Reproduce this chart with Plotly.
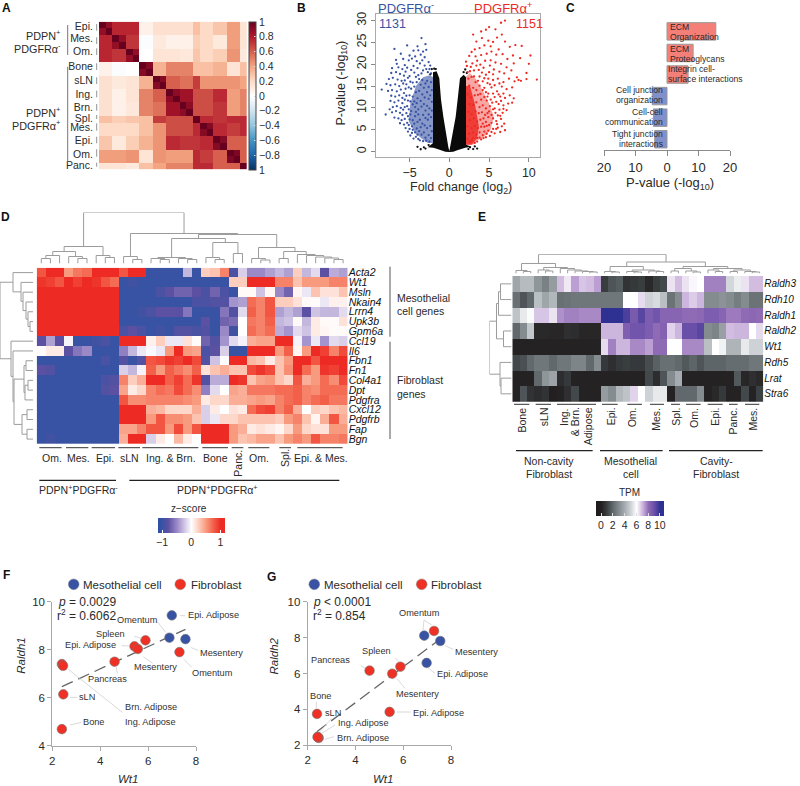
import plotly.graph_objects as go

W, H = 800, 786
FONT = "Liberation Sans"
TXT = "#2a2a2a"
BLUE = "#3953A4"
RED = "#ED2A24"
GREY = "#9c9c9c"

# ---------- Panel A ----------
a_labels = ["Epi.", "Mes.", "Om.", "Bone", "sLN", "Ing.", "Brn.", "Spl.", "Mes.", "Epi.", "Om.", "Panc."]
a_sizes = [2, 2, 2, 2, 2, 2, 2, 1, 2, 2, 2, 1]
a_tick_idx = [0.15, 1.96, 3.9, 6.1, 8.3, 10.3, 12.3, 13.9, 15.3, 17.2, 19.2, 20.9]
a_groups = [
    [.88, .76, .76, .08, .17, .17, .17, .30, .20, .28, .42, .15],
    [.76, .88, .72, -.02, .12, .08, .08, .25, .20, .12, .42, .15],
    [.76, .72, .88, .00, .15, .15, .13, .28, .20, .25, .45, .12],
    [.08, -.02, .00, .92, .35, .50, .50, .30, .30, .35, .15, .30],
    [.17, .12, .15, .35, .92, .60, .55, .70, .45, .45, .45, .40],
    [.17, .08, .15, .50, .60, .90, .85, .65, .65, .75, .42, .50],
    [.17, .08, .13, .50, .55, .85, .90, .65, .65, .72, .42, .50],
    [.30, .25, .28, .30, .70, .65, .65, 1.0, .75, .72, .75, .75],
    [.20, .20, .20, .30, .45, .65, .65, .75, .92, .75, .70, .75],
    [.28, .12, .25, .35, .45, .75, .72, .72, .75, .92, .60, .60],
    [.42, .42, .45, .15, .45, .42, .42, .75, .70, .60, .94, .60],
    [.15, .15, .12, .30, .40, .50, .50, .75, .75, .60, .60, 1.0],
]
a_cbar_vals = [1, .8, .6, .4, .2, 0, -.2, -.4, -.6, -.8, -1]
a_cbar_text = ["1", "0.8", "0.6", "0.4", "0.2", "0", "−0.2", "−0.4", "−0.6", "−0.8", "1"]

# ---------- Panel B ----------
black_outline_x = [0, .5, 1, 1.5, 2, 2.8, 2.1, 2.1, 2.1, 2.1, 1.8, 1.34, 1.05, .8, .42, .13, 0,
                   -.13, -.42, -.75, -1.05, -1.26, -1.6, -2.05, -2.05, -2.05, -2.05, -2.7, -2, -1.5, -1, -.5, 0]
black_outline_y = [-.1, 0, .3, .6, .9, 1.1, 1.6, 6, 12, 17, 17.6, 16.8, 12, 8, 4.2, 1.1, .1,
                   1.1, 4.2, 8, 12, 16.8, 18.4, 18.2, 12, 6, 2, 1, .9, .6, .3, 0, -.1]
black_extra = [(-3.2, 1), (-4, 1.1), (-2.6, 1.5), (-3.6, .55), (-3, .7), (2.6, 1), (3.2, 1.2), (3.5, .7), (3, .6), (2.4, .6),
               (-2.2, 18.9), (-2.4, 17.7), (2.2, 18), (2.0, 18.8), (1.8, 18.2), (-1.9, 19), (-1.7, 18.9)]
blue_core_x = [-2, -2, -2.5, -3.3, -4.2, -4.9, -5.1, -4.4, -3.5, -2.7]
blue_core_y = [2, 17, 17.5, 17, 15, 11, 7, 4.5, 3, 2]
red_core_x = [2, 2, 2.6, 3.4, 4.2, 5, 5.6, 5.2, 4.4, 3.4, 3]
red_core_y = [1.6, 17, 18, 16.5, 14, 11, 8, 5, 3.4, 2.4, 1.6]
red_dense_x = [2, 2, 2.6, 3.2, 3.7, 3.5, 3, 2.8]
red_dense_y = [1.6, 15, 15, 11, 6, 3, 2, 1.6]
blue_pts = [(-8.5, 14.2), (-8, 8.5), (-7.5, 9.7), (-6.9, 23.5), (-6.1, 22.4), (-5.3, 24.3), (-3.5, 26), (-4, 24.1), (-3, 24.6),
            (-4.5, 23.1), (-3.9, 23.2), (-3.3, 22.9), (-2.9, 23.3), (-5, 22), (-4.3, 21.8), (-3.6, 22.2), (-3.1, 21.6), (-6.7, 21),
            (-5.8, 21.2), (-5.1, 20.9), (-4.7, 21.3), (-4.1, 20.7), (-3.4, 20.9), (-2.6, 20.5), (-6.6, 20.1), (-5.6, 19.8), (-2.4, 19.7),
            (-7.2, 19.1), (-6.4, 19.3), (-5.9, 18.9), (-5.3, 19.2), (-4.8, 18.7), (-7.3, 18), (-6.7, 18.2), (-6.2, 17.8), (-5.7, 17.4),
            (-7.6, 16.6), (-7.1, 16.9), (-6.5, 16.5), (-6, 16.2), (-7.9, 15.5), (-7.4, 15.2), (-6.8, 15.4), (-6.3, 15), (-5.8, 15.6),
            (-7.7, 13.9), (-7.2, 14.1), (-6.6, 13.8), (-6.1, 14.2), (-5.7, 13.4), (-7.3, 12.8), (-6.8, 12.6), (-6.3, 12.9), (-5.9, 12.3),
            (-7.4, 11.6), (-6.9, 11.3), (-6.4, 11.7), (-5.9, 11.1), (-7.1, 10.2), (-6.6, 10.4), (-6.1, 10), (-5.8, 9.6), (-7.2, 9),
            (-6.7, 9.3), (-6.2, 8.9), (-5.9, 8.4), (-6.9, 7.8), (-6.4, 7.6), (-6, 7.2), (-5.6, 7.5), (-6.2, 6.5), (-5.7, 6.2), (-5.3, 6.6),
            (-5.5, 5.4), (-5, 5.2), (-5.2, 4.6), (-4.7, 4.3), (-4.9, 3.7), (-4.2, 3.4), (-4.5, 3.0), (-3.7, 2.6), (-3.3, 2.4), (-3.9, 2.9),
            (-5.1, 14.7), (-4.6, 15.8), (-4.2, 13.6), (-3.8, 16.6), (-3.2, 14.6), (-2.8, 16.2), (-4.9, 11.5), (-4.3, 10.2), (-3.6, 11.6),
            (-3, 9.4), (-2.6, 12.1), (-5.2, 8.1), (-4.6, 7.2), (-3.9, 8.5), (-3.4, 6.4), (-2.7, 7.3), (-4.1, 5.3), (-3.2, 4.4),
            (-5, 17.3), (-4.4, 18.1), (-3.9, 17.5), (-3.3, 18.6), (-2.7, 18.2), (-5.4, 12.8), (-4.8, 9.3), (-5.3, 10.4),
            (-5.5, 18.3), (-5.2, 16.9), (-4.9, 16), (-4.5, 19.6), (-4.2, 17.1), (-4, 19.1), (-3.7, 20.2), (-3.5, 17.9), (-3.1, 19.7), (-2.9, 18.9),
            (-2.5, 18.9), (-2.3, 17.9), (-5.6, 16.3), (-5.5, 14.4), (-5.4, 15.4), (-4.8, 14.4), (-4.4, 14.9), (-4.1, 15.9), (-3.6, 15.3), (-3.4, 16.4),
            (-3, 15.6), (-2.6, 14.8), (-2.3, 15.9), (-2.2, 14.1), (-5.6, 11.9), (-5.2, 11.7), (-5, 12.9), (-4.6, 12.6), (-4.4, 11.5), (-4, 12.2),
            (-3.8, 13.9), (-3.4, 13.1), (-3.1, 12.4), (-2.8, 13.6), (-2.4, 12.9), (-2.2, 11.4), (-5.6, 10.2), (-5.1, 9.7), (-4.6, 10.8), (-4.1, 11.1),
            (-3.9, 9.7), (-3.5, 10.3), (-3.2, 10.9), (-2.8, 10.5), (-2.5, 9.9), (-2.2, 9.4), (-5.4, 8.8), (-5, 7.4), (-4.9, 8.5), (-4.3, 8.1),
            (-4.2, 9.1), (-3.7, 7.3), (-3.3, 8.4), (-3, 7.7), (-2.6, 8.5), (-2.3, 7.9), (-5.1, 6.1), (-4.7, 5.8), (-4.4, 6.4), (-4, 6.8),
            (-3.6, 5.6), (-3.1, 6), (-2.8, 5.4), (-2.4, 5.9), (-2.2, 4.7), (-4.6, 5), (-4.3, 4.4), (-3.8, 4.7), (-3.5, 3.9), (-3, 3.2),
            (-2.6, 3.8), (-2.3, 3.1), (-4, 3.9), (-2.9, 2.5), (-2.5, 2.3)]
red_pts = [(11, 16.5), (10.2, 22), (10, 20.1), (9.7, 18), (9.7, 16.6), (9.1, 24.2), (8.3, 24.4), (7, 30), (6.5, 29.5), (5, 28.5),
           (4, 27.5), (8.5, 17), (8.7, 16.4), (9, 16.2), (8, 22), (7, 25.2), (6, 26.1), (5.5, 25.1), (5.8, 28), (4.6, 27.9),
           (4.1, 26), (3.4, 25.2), (3, 26.8), (4.9, 25.4), (6.6, 26.8), (5.2, 24.1), (4.4, 24.3), (3.8, 23.7), (3.2, 23.4), (2.8, 22.8),
           (6.2, 23.4), (7.6, 24), (8.9, 21.4), (8.1, 20.2), (7.3, 21.2), (6.7, 22.3), (5.9, 22.2), (5.3, 22.9), (4.7, 22.4), (4, 22.1),
           (3.3, 21.8), (2.5, 21.9), (2.1, 20.6), (7.8, 18.6), (7.2, 19.3), (6.5, 20.1), (5.8, 20.4), (5.2, 20.9), (4.5, 20.8),
           (6.9, 17.9), (6.3, 18.3), (5.6, 18.8), (5, 18.2), (8.2, 16.1), (7.5, 16.7), (6.8, 15.9), (6.1, 16.7), (5.5, 16.4),
           (7.9, 14.7), (7.2, 14.3), (6.6, 14.9), (6, 13.8), (8.1, 12.2), (7.6, 12.9), (7, 12.3), (6.4, 12.6), (5.7, 12.5),
           (7.9, 11.2), (7.4, 11), (6.8, 10.6), (6.2, 10.9), (7.2, 9.5), (6.7, 8.9), (6.1, 8.3), (5.5, 9.7), (6.5, 7.5), (5.9, 7),
           (5.3, 6.6), (6.9, 6.4), (6.1, 5.5), (5.5, 5.2), (7, 4.9), (6.4, 4.5), (5.7, 4.2), (5.1, 3.6), (4.6, 3.3), (4, 2.8),
           (3.5, 2.3), (3.2, 2), (3.8, 3.2), (2.8, 2.6), (4.4, 14.6), (4.9, 13.3), (4.2, 16.1), (3.7, 18.7), (3.1, 17.2), (2.6, 18.4),
           (4.7, 11.7), (5.1, 10.4), (4.5, 8.4), (4.9, 7.9), (4.4, 5.7), (3.9, 13.2), (4.3, 19.2), (3.4, 19.7), (2.9, 20.2),
           (3.6, 16.2), (4.8, 15.7), (5.3, 14.7), (5.2, 11.9), (4.6, 6.8),
           (2.3, 18.2), (2.2, 19.6), (2.7, 19.4), (3.1, 18.6), (3.5, 20.8), (3.9, 19.9), (4.1, 18.1), (4.6, 17.6), (5.1, 19.7), (5.5, 17.7),
           (2.4, 16.7), (2.8, 17.1), (3.3, 15.9), (3.8, 17.2), (4.4, 16.8), (4.9, 16.7), (5.7, 15.2), (6.3, 15.6), (2.5, 15.1), (3, 14.6),
           (3.4, 14.1), (3.8, 15.1), (4.2, 14.1), (4.6, 13.6), (5.1, 15.4), (5.5, 13.3), (6.2, 13.1), (6.8, 13.3), (2.3, 13.1), (2.7, 12.4),
           (3.2, 12.9), (3.6, 13), (4, 11.9), (4.4, 12.5), (4.8, 12.6), (5.4, 11.2), (5.9, 11.4), (6.5, 11.6), (2.5, 10.9), (3, 10.7),
           (3.4, 11.3), (3.8, 10.2), (4.2, 10.6), (4.6, 9.9), (5, 9.2), (5.7, 9.9), (6.3, 9.6), (6.8, 9.8), (2.4, 9.1), (2.8, 8.6),
           (3.3, 9.2), (3.7, 8.8), (4.1, 9), (4.3, 7.6), (4.8, 8.8), (5.3, 8.4), (5.8, 8.9), (6.4, 8.2), (2.6, 7.2), (3.1, 7.6),
           (3.5, 6.9), (3.9, 7.3), (4.2, 6.4), (4.7, 5.9), (5, 6.1), (5.5, 7.6), (6, 6.3), (6.6, 5.8), (2.3, 5.8), (2.8, 5.4),
           (3.2, 5.9), (3.6, 5.4), (4, 5.7), (4.4, 4.6), (4.9, 4.8), (5.3, 4.5), (5.9, 5.2), (2.5, 4.1), (3, 4.4), (3.4, 3.9),
           (3.8, 4.4), (4.2, 3.8), (4.7, 4.1), (2.6, 2.2), (3, 3.1), (2.3, 2.9), (3.5, 3.1), (4.3, 3.1)]

# ---------- Panel C ----------
c_terms = ["ECM Organization", "ECM Proteoglycans", "Integrin cell-surface interactions",
           "Cell junction organization", "Cell-cell communication", "Tight junction interactions"]
c_values = [15.5, 8.3, 6.7, -4.7, -4.3, -3.9]
c_tick_vals = [-20, -10, 0, 10, 20]
c_tick_text = ["20", "10", "0", "10", "20"]

# ---------- Panel D ----------
d_genes = ["Acta2", "Wt1", "Msln", "Nkain4", "Lrrn4", "Upk3b", "Gpm6a", "Ccl19", "Il6", "Fbn1", "Fn1",
           "Col4a1", "Dpt", "Pdgfra", "Cxcl12", "Pdgfrb", "Fap", "Bgn"]
d_matrix = [
    [.8, 1, 1, .5, .65, .7, 1, 1, 1, .8, 1, 1, -1, -1, -1, -1, -.3, -1, .25, .3, .6, -.9, -.2, -.5, -.5, -.4, -.3, -.4, .25, -.3, -.15, -.8, -.35, -.4],
    [.95, .9, .8, 1, .9, 1, .95, .8, .7, -1, -.95, -1, -1, -1, -1, -1, -1, -1, -1, -1, -1, .25, .25, 1, 1, 1, .6, .6, .3, .5, .5, .5, .6, .6],
    [1, 1, 1, 1, 1, 1, 1, 1, 1, -1, -1, -1, -1, -.9, -.8, -.7, -.7, -.8, -.9, -.7, -.9, -1, .03, .03, -.25, .05, -.5, -.7, .05, -.1, .3, .15, .15, .3],
    [1, 1, 1, 1, 1, 1, 1, 1, 1, -1, -1, -1, -1, -1, -1, -1, -1, -.9, -.9, -.85, -.85, -.45, -.4, .7, .6, .8, .25, .25, .15, .03, .02, -.1, .07, .07],
    [1, 1, 1, 1, 1, 1, 1, 1, 1, -1, -1, -.95, -.9, -.8, -.8, -.8, -.6, -1, -1, -1, -.6, -.85, -.15, .75, .6, .8, -.4, -.3, -.4, -.8, -.25, -.3, -.3, -.15],
    [1, 1, 1, 1, 1, 1, 1, 1, 1, -1, -1, -1, -1, -1, -1, -1, -1, -1, -.8, -1, -.7, -.65, 0, .65, .6, .75, -.3, -.25, .03, -.3, .1, .03, .02, .15],
    [1, 1, 1, 1, 1, 1, 1, 1, 1, -.9, -.8, -.9, -1, -.95, -1, -.85, -.85, -.9, -.85, -1, -.5, -.95, 0, .7, .6, .7, -.35, -.45, -.15, -.25, .1, .05, .02, .02],
    [-.8, -.4, -.8, -.05, -1, -1, -.95, -.9, -1, 1, 1, 1, .07, .25, -.1, -.1, .15, .02, -.7, -.85, -.45, -.15, -.05, .4, .45, .45, 1, 1, -.05, -.45, -.1, -.45, -.15, -.2],
    [.02, .1, .1, -.8, -.6, -.5, -1, -1, -1, -.55, -.3, -.1, -.03, -.1, .5, 1, .5, .45, -.9, -.8, -.2, -1, -1, 1, 1, 1, .5, .75, .05, .5, 1, .9, .6, .85],
    [-1, -1, -1, -1, -1, -1, -1, -.9, -1, -.85, -1, -.85, .8, .85, .95, .9, 1, .85, -.85, -.25, -.02, 1, 1, .35, .3, .1, .3, .5, 1, 1, .8, 1, 1, 1],
    [-.8, -.85, -1, -1, -1, -1, -1, -1, -1, -.2, -.3, -.05, .75, .5, .75, .65, .55, .75, .15, .3, .4, .3, .3, .85, .95, .85, .3, .55, 1, .7, .5, .95, .9, 1],
    [-1, -1, -1, -1, -1, -1, -1, -.9, -.85, .6, .25, .4, 1, 1, .75, .9, .7, .95, -.85, -.35, -.35, 1, .95, .3, .45, .5, .3, .2, .8, .4, .5, .7, .55, .85],
    [-1, -1, -1, -1, -1, -1, -1, -.85, -.8, .45, .1, .2, .6, .7, .65, .85, .7, .55, -.55, -.15, 0, .45, .4, .65, .65, .65, .7, .7, .75, .6, .55, .7, .7, .7],
    [-1, -1, -1, -1, -1, -1, -1, -1, -1, .8, .55, .55, .6, .6, .6, .6, .55, .5, .1, .2, .2, .4, .4, .45, .5, .45, .6, .7, .75, .6, .7, .75, .65, .65],
    [-1, -1, -1, -1, -1, -1, -1, -1, -1, 1, 1, 1, .4, .35, .2, .2, .2, .4, -.2, .1, 0, .15, .1, .7, .85, .9, .6, .75, .4, 0, .25, .2, .3, .35],
    [-1, -1, -1, -1, -1, -1, -1, -1, -1, 1, 1, 1, .5, .8, .55, .55, .5, .3, -.2, -.1, .2, .2, .3, .3, .3, .3, .25, .5, .6, .3, .05, .4, .8, .4],
    [-1, -1, -1, -1, -1, -1, -1, -1, -1, .45, .45, .6, .8, .8, .5, .85, .5, .8, 1, 1, 1, .5, .4, .1, .15, .1, .05, .2, .5, .2, .15, .15, .5, .5],
    [-1, -.95, -1, -1, -1, -1, -1, -1, -1, .4, 1, 1, -.2, .1, 0, .35, .1, 0, 1, 1, 1, .5, .3, .35, .45, .45, .3, .5, .6, .5, .8, .6, .6, .65],
]
d_top_tree = (51,
              (17, (12, (8, (5, 0, 1), 2), (7, 3, (5, 4, 5))), (8, 6, (6, 7, 8))),
              (30, (7, 9, (4, 10, 11)),
               (29,
                (25, (6, (5, 12, (4, 13, 14)), (5, 15, (4, 16, 17))),
                 (21, (6, 18, (4, 19, 20)), (10, 21, 22))),
                (16, (5, 23, (3.5, 24, 25)),
                 (12, (5, 26, 27), (9, 28, (8, 29, (6.5, 30, (5.5, 31, (4, 32, 33))))))))))
d_left_tree = (33,
               (20, 0, (12, 1, (10, 2, (7, 3, (5, 4, (3, 5, 6))))),),
               (22, 7, (20, 8, (19, (9, (7, 9, 10), (8, (5, 11, 12), 13)), (11, (6, 14, 15), (6, 16, 17))))))
d_cbar_vals = [-1, 0, 1]
d_cbar_text = ["−1", "0", "1"]

# ---------- Panel E ----------
e_genes = ["Raldh3", "Rdh10", "Raldh1", "Raldh2", "Wt1", "Rdh5", "Lrat", "Stra6"]
e_matrix = [
    [3.8, 4.4, 4.4, 3.3, 2.7, 3.5, 6.9, 6.3, 7.3, 6.8, 6.9, 7.3, .9, 1.5, 1.7, .6, .8, .9, .3, .9, 1.2, 6.4, 6.9, 6.4, 6.1, 6, 7.7, 7.7, 7.7, 5.1, 5.6, 6.4, 6.9, 6.9],
    [2.2, 1.5, 2.0, 4.5, 3.8, 4.3, 2.2, 2.3, 2.4, 2.4, 2.4, 2.4, 2.4, 2.4, 2.4, 6, 6, 6.5, 5, 5.2, 4.5, 2.3, 3, 7, 6.7, 7, 3, 3, 3.2, 3, 2.6, 3, 2.3, 2.3],
    [4.6, 5.5, 5.9, 6.8, 6.8, 6.4, 7.5, 7.7, 7.7, 7.6, 7.6, 7.6, 10, 10, 10, 9.5, 8.6, 9.3, 8.5, 8.8, 8.2, 8.2, 8.2, 8, 8, 8.1, 8.5, 8.5, 8.2, 7.8, 7.8, 8, 8.1, 8],
    [2.0, 3, 4.7, .3, .3, .2, .2, .5, .4, .2, .2, .2, 7, 7, 7, 8.4, 8.8, 8.8, 8.5, 8, 8.3, 6.6, 7, 9, 9, 9.3, 3, 2.8, 3.6, 6.9, 7, 7, 6, 6.5],
    [.1, .1, .1, .1, .1, .1, .1, .1, .1, .1, .1, .1, 6.5, 7.7, 7, 7, 7.6, 7.6, 7.3, 8, 8, 6, 6, 7.6, 7.6, 7.6, 4.5, 6, 5.7, 4.2, 4.2, 5.5, 5, 5],
    [1.2, 1.4, 2, 2.4, 2.4, 2, 2.4, 2.4, 2.8, 2.8, 2, 3, .8, .5, .8, .9, .8, .8, 1.3, 1.8, 2.2, 2.2, 2, 1.6, 1.9, 1.5, 1.9, 1.9, 1.9, 2.1, 2.1, 2.1, 2.4, 2.4],
    [.1, .1, .1, 2, 3.3, 3.7, .4, .8, .1, .1, .1, .1, .1, .1, .1, .1, .1, .1, 1.2, .4, 1.5, 3, 4, .1, .1, .1, .1, .1, .1, .1, 1.6, .2, .5, .3],
    [.1, 1.5, .6, .4, .6, 0, .1, .5, 1.2, .1, .1, .1, 3.5, 3, 4.3, 4.6, 6.6, 6, 5, 5.5, 5.5, .1, 2, 2, 2, 3, .1, .3, .8, .1, .1, 1.2, .1, 1],
]
e_top_tree = (19,
              (10, (3, 0, (2, 1, 2)),
               (6, (3.5, 3, (2.5, 4, 5)), (5, 6, (3.5, 7, (2.5, 8, (2, 9, (1.5, 10, 11))))))),
              (11.5,
               (7, (2, 12, (1.5, 13, 14)), (3.5, (2, 15, (1.5, 16, 17)), (2.5, 18, (2, 19, 20)))),
               (7, (5, (2.5, 21, 22), (2.5, 23, (1.5, 24, 25))),
                (5, (3.5, 26, (2, 27, 28)), (3.5, (2, 29, 30), (2, 31, (1.5, 32, 33)))))))
e_left_tree = (22,
               (15, (13, (11, 0, 1), 2), (8, 3, 4)),
               (11.5, 5, (10.5, 6, 7)))
e_cbar_vals = [0, 2, 4, 6, 8, 10]

# ---------- Panels F, G ----------
f_meso_x = [6.99, 6.89, 7.56]
f_meso_y = [9.43, 8.5, 8.44]
f_fib_x = [7.31, 5.89, 5.43, 5.57, 4.6, 2.40, 2.45, 2.46, 2.40]
f_fib_y = [7.90, 8.39, 8.14, 8.03, 7.5, 7.4, 7.33, 6.14, 4.69]
f_trend_x = [2.4, 7.56]
f_trend_y = [6.46, 8.85]
g_meso_x = [6.88, 7.55, 6.98]
g_meso_y = [8.11, 7.81, 6.59]
g_fib_x = [7.29, 5.88, 5.54, 4.59, 5.43, 2.39, 2.46, 2.42, 2.42]
g_fib_y = [8.37, 6.38, 5.99, 6.16, 3.86, 3.75, 2.41, 2.47, 2.45]
g_trend_x = [2.38, 7.4]
g_trend_y = [2.76, 7.77]

# ---------- helpers ----------
fig = go.Figure()
annots, shapes = [], []
layout_axes = {}
ax_n = [0]


def px(x):
    return x / W


def py(y):
    return 1 - y / H


def new_axes(x0, x1, y0, y1, xopts=None, yopts=None):
    ax_n[0] += 1
    n = ax_n[0]
    s = "" if n == 1 else str(n)
    base = dict(showgrid=False, zeroline=False, showticklabels=False, ticks="", showline=False)
    xa = dict(base, domain=[px(x0), px(x1)], anchor="y" + s)
    ya = dict(base, domain=[py(y1), py(y0)], anchor="x" + s)
    xa.update(xopts or {})
    ya.update(yopts or {})
    layout_axes["xaxis" + s] = xa
    layout_axes["yaxis" + s] = ya
    return "x" + s, "y" + s


def text(x, y, t, size=10.5, anchor="center", v="middle", angle=0, color=TXT):
    annots.append(dict(x=px(x), y=py(y), xref="paper", yref="paper", text=t, showarrow=False, xanchor=anchor,
                       yanchor=v, textangle=angle, borderpad=0, borderwidth=0,
                       font=dict(family=FONT, size=size, color=color)))


def line(x0, y0, x1, y1, color="#333333", width=1.0):
    shapes.append(dict(type="line", xref="paper", yref="paper", x0=px(x0), y0=py(y0), x1=px(x1), y1=py(y1),
                       line=dict(color=color, width=width)))


def dot(x, y, color, r=5.4):
    shapes.append(dict(type="circle", xref="paper", yref="paper", x0=px(x - r), x1=px(x + r), y0=py(y - r), y1=py(y + r),
                       fillcolor=color, line=dict(color="#8a8a8a", width=.5)))


def walk(node, xs, ys):
    if not isinstance(node, tuple):
        return node, 0
    h, a, b = node
    pa, ha = walk(a, xs, ys)
    pb, hb = walk(b, xs, ys)
    xs += [pa, pa, pb, pb, None]
    ys += [ha, h, h, hb, None]
    return (pa + pb) / 2, h


def dendro(tree, xa, ya, horizontal=False):
    p, h = [], []
    walk(tree, p, h)
    if horizontal:
        fig.add_trace(go.Scatter(x=h, y=p, xaxis=xa, yaxis=ya, mode="lines", line=dict(color=GREY, width=1), hoverinfo="skip"))
    else:
        fig.add_trace(go.Scatter(x=p, y=h, xaxis=xa, yaxis=ya, mode="lines", line=dict(color=GREY, width=1), hoverinfo="skip"))


# ---------- A ----------
a_matrix = []
for gi, si in zip(a_groups, a_sizes):
    row = []
    for v, sj in zip(gi, a_sizes):
        row += [v] * sj
    for _ in range(si):
        a_matrix.append(list(row))
for i in range(len(a_matrix)):
    a_matrix[i][i] = 1.0
rdbu = [[0, "#053061"], [.1, "#2166AC"], [.2, "#4393C3"], [.3, "#92C5DE"], [.4, "#D1E5F0"], [.5, "#FFFFFF"],
        [.6, "#FDDBC7"], [.7, "#F4A582"], [.8, "#D6604D"], [.9, "#B2182B"], [1, "#67001F"]]
xa, ya = new_axes(99, 246.7, 21.7, 169.3, dict(range=[-.5, 21.5]),
                  dict(range=[21.5, -.5], tickmode="array", tickvals=a_tick_idx, ticktext=a_labels, showticklabels=True,
                       ticks="outside", ticklen=3, tickcolor="rgba(0,0,0,0)", tickfont=dict(family=FONT, size=10.5, color=TXT)))
fig.add_trace(go.Heatmap(z=a_matrix, xaxis=xa, yaxis=ya, zmin=-1, zmax=1, colorscale=rdbu, hoverinfo="skip",
                         colorbar=dict(thickness=7, len=148, lenmode="pixels", x=px(248.5), xanchor="left", y=py(22), yanchor="top",
                                       xpad=0, ypad=0, tickmode="array", tickvals=a_cbar_vals, ticktext=a_cbar_text, ticks="inside",
                                       ticklen=2, tickcolor="#ddd", tickfont=dict(family=FONT, size=10.5, color=TXT),
                                       outlinecolor="#444", outlinewidth=1)))
for y0, y1 in [(24, 30.7), (37.3, 44), (48.3, 55), (63.3, 70), (77.3, 84), (90.7, 97.3), (104, 110.7), (115, 119), (123.3, 130.7),
               (136.7, 143.3), (149.3, 156.7), (162.7, 166.7)]:
    line(96.7, y0, 96.7, y1, "#777", .8)
line(67.7, 25, 67.7, 55, "#777", 1)
line(67.7, 66.7, 67.7, 161.7, "#777", 1)
text(61, 35, "PDPN<sup>+</sup>", anchor="right", size=10.8)
text(61, 48, "PDGFRα<sup>-</sup>", anchor="right", size=10.8)
text(61, 112, "PDPN<sup>+</sup>", anchor="right", size=10.8)
text(61, 125, "PDGFRα<sup>+</sup>", anchor="right", size=10.8)

# ---------- B ----------
xa, ya = new_axes(376.3, 540, 14, 156.7,
                  dict(range=[-9.18, 11.4], showline=True, mirror=True, linecolor="#aaaaaa", linewidth=1.3, ticks="outside", ticklen=4,
                       tickcolor="#888", tickmode="array", tickvals=[-5, 0, 5, 10], ticktext=["−5", "0", "5", "10"], showticklabels=True,
                       tickfont=dict(family=FONT, size=12.5, color=TXT)),
                  dict(range=[-1.15, 31.5], showline=True, mirror=True, linecolor="#aaaaaa", linewidth=1.3, ticks="outside", ticklen=4,
                       tickcolor="#888", tickmode="array", tickvals=[0, 5, 10, 15, 20, 25, 30], showticklabels=True, tickangle=-90,
                       tickfont=dict(family=FONT, size=12.5, color=TXT)))
fig.add_trace(go.Scatter(x=blue_core_x, y=blue_core_y, xaxis=xa, yaxis=ya, mode="lines", fill="toself", line=dict(width=0),
                         fillcolor="rgba(57,83,164,.6)", hoverinfo="skip"))
fig.add_trace(go.Scatter(x=red_core_x, y=red_core_y, xaxis=xa, yaxis=ya, mode="lines", fill="toself", line=dict(width=0),
                         fillcolor="rgba(237,42,36,.42)", hoverinfo="skip"))
fig.add_trace(go.Scatter(x=red_dense_x, y=red_dense_y, xaxis=xa, yaxis=ya, mode="lines", fill="toself", line=dict(width=0),
                         fillcolor="rgba(237,42,36,.85)", hoverinfo="skip"))
fig.add_trace(go.Scatter(x=black_outline_x, y=black_outline_y, xaxis=xa, yaxis=ya, mode="lines", fill="toself", line=dict(width=0),
                         fillcolor="#0a0a0a", hoverinfo="skip"))
for pts, col in [(black_extra, "#111111"), (blue_pts, BLUE), (red_pts, RED)]:
    fig.add_trace(go.Scatter(x=[p[0] for p in pts], y=[p[1] for p in pts], xaxis=xa, yaxis=ya, mode="markers",
                             marker=dict(size=2.3, color=col), hoverinfo="skip"))
text(341.5, 83, "P-value (-log<sub>10</sub>)", size=12.5, angle=-90)
text(460.7, 188, "Fold change (log<sub>2</sub>)", size=12.5)
text(378, 8, "PDGFRα<sup>-</sup>", size=13, anchor="left", color=BLUE)
text(532, 8, "PDGFRα<sup>+</sup>", size=13, anchor="right", color=RED)
text(379.3, 24, "1131", size=12.5, anchor="left", color=BLUE)
text(543, 24, "1151", size=12.5, anchor="right", color=RED)

# ---------- C ----------
xa, ya = new_axes(604, 730, 20.6, 150,
                  dict(range=[-20, 20], showline=True, linecolor="#8a8a8a", linewidth=1, ticks="outside", ticklen=5, tickcolor="#8a8a8a",
                       tickmode="array", tickvals=c_tick_vals, ticktext=c_tick_text, showticklabels=True,
                       tickfont=dict(family=FONT, size=13, color=TXT)),
                  dict(range=[5.5, -.5]))
fig.add_trace(go.Bar(x=c_values, y=list(range(6)), orientation="h", width=.81, xaxis=xa, yaxis=ya, hoverinfo="skip",
                     marker=dict(color=["#F47F78"] * 3 + ["#7F90CB"] * 3, line=dict(color="#999999", width=1))))
for y, t in [(26.7, "ECM"), (36.7, "Organization"), (49, "ECM"), (59, "Proteoglycans")]:
    text(670, y, t, size=8.6, anchor="left")
for y, t in [(69, "Integrin cell-"), (79, "surface interactions")]:
    text(668.3, y, t, size=8.6, anchor="left")
for y, t in [(90.3, "Cell junction"), (99.7, "organization"), (112.3, "Cell-cell"), (122, "communication"),
             (134, "Tight junction"), (143.7, "interactions")]:
    text(663.3, y, t, size=8.6, anchor="right")
text(670, 183.5, "P-value (-log<sub>10</sub>)", size=13)

# ---------- D ----------
zs = [[0, "#2E4FA5"], [.065, BLUE], [.152, "#5C50A2"], [.283, "#9A88C7"], [.391, "#CFC3E3"], [.5, "#FFFFFF"],
      [.609, "#FDCDBD"], [.717, "#F89A7E"], [.826, "#F3604A"], [.935, RED], [1, RED]]
xa, ya = new_axes(36.7, 347.7, 267.7, 444, dict(range=[-.5, 33.5]),
                  dict(range=[17.5, -.5], side="right", tickmode="array", tickvals=list(range(18)),
                       ticktext=["<i>%s</i>" % g for g in d_genes], showticklabels=True,
                       tickfont=dict(family=FONT, size=10.5, color="#111")))
fig.add_trace(go.Heatmap(z=d_matrix, xaxis=xa, yaxis=ya, zmin=-1.15, zmax=1.15, colorscale=zs, hoverinfo="skip",
                         colorbar=dict(orientation="h", thickness=14.7, len=67.3, lenmode="pixels", x=px(157.7), xanchor="left",
                                       y=py(518), yanchor="top", xpad=0, ypad=0, tickmode="array", tickvals=d_cbar_vals,
                                       ticktext=d_cbar_text, ticks="inside", ticklen=3, tickcolor="#ffffff", outlinewidth=0,
                                       tickfont=dict(family=FONT, size=10.5, color=TXT))))
xt, yt = new_axes(36.7, 347.7, 212.5, 263.5, dict(range=[-.5, 33.5]), dict(range=[0, 51]))
dendro(d_top_tree, xt, yt)
xl, yl = new_axes(0, 33, 267.7, 444, dict(range=[33, 0]), dict(range=[17.5, -.5]))
dendro(d_left_tree, xl, yl, horizontal=True)
for x0, x1 in [(118, 185), (198, 265), (275, 345), (355, 420), (427, 595), (607, 684), (695, 730), (745, 808), (838, 873), (892, 1028)]:
    line(x0 / 3, 447.7, x1 / 3, 447.7, "#333", 1)
for xc, t in [(157, "Om."), (234, "Mes."), (314, "Epi."), (387, "sLN"), (514, "Ing. &amp; Brn."), (645, "Bone"), (778, "Om."), (964, "Epi. &amp; Mes.")]:
    text(xc / 3, 457.7, t)
text(715 / 3, 463.3, "Panc.", angle=-90)
text(857 / 3, 458.3, "Spl.", angle=-90)
line(118 / 3, 480.3, 348 / 3, 480.3, "#222", 1.3)
line(388 / 3, 480.3, 1018 / 3, 480.3, "#222", 1.3)
text(235 / 3, 489.5, "PDPN<sup>+</sup>PDGFRα<sup>-</sup>")
text(653 / 3, 489.5, "PDPN<sup>+</sup>PDGFRα<sup>+</sup>")
text(189, 508, "z−score", size=10)
line(390, 266.7, 390, 336.7, "#555", 1)
line(390, 341.7, 390, 439, "#555", 1)
text(396.7, 297.7, "Mesothelial", anchor="left")
text(396.7, 311, "cell genes", anchor="left")
text(396.7, 380.3, "Fibroblast", anchor="left")
text(396.7, 393.7, "genes", anchor="left")

# ---------- E ----------
tpm = [[0, "#1e1b1c"], [.078, "#231F20"], [.165, "#3b4042"], [.251, "#62696c"], [.338, "#858c90"], [.424, "#a6acb1"],
       [.511, "#ced2d6"], [.597, "#FFFFFF"], [.684, "#CDB6DE"], [.771, "#8F6AB5"], [.857, "#6A4FA8"], [.944, "#2E3192"], [1, "#2E3192"]]
xa, ya = new_axes(512.3, 763.3, 276, 401.7, dict(range=[-.5, 33.5]),
                  dict(range=[7.5, -.5], side="right", tickmode="array", tickvals=list(range(8)),
                       ticktext=["<i>%s</i>" % g for g in e_genes], showticklabels=True,
                       tickfont=dict(family=FONT, size=10, color="#111")))
fig.add_trace(go.Heatmap(z=e_matrix, xaxis=xa, yaxis=ya, zmin=-.9, zmax=10.65, colorscale=tpm, hoverinfo="skip",
                         colorbar=dict(orientation="h", thickness=15.3, len=68.3, lenmode="pixels", x=px(595.7), xanchor="left",
                                       y=py(500.7), yanchor="top", xpad=0, ypad=0, tickmode="array", tickvals=e_cbar_vals,
                                       ticks="inside", ticklen=3, tickcolor="#dddddd", outlinewidth=0,
                                       tickfont=dict(family=FONT, size=10.5, color=TXT))))
xt, yt = new_axes(512.3, 763.3, 254.2, 273.5, dict(range=[-.5, 33.5]), dict(range=[0, 19.3]))
dendro(e_top_tree, xt, yt)
xl, yl = new_axes(489.5, 511.5, 276, 401.7, dict(range=[22, 0]), dict(range=[7.5, -.5]))
dendro(e_left_tree, xl, yl, horizontal=True)
for x0, x1 in [(132, 178), (197, 243), (261, 378), (396, 443), (472, 516), (540, 582), (603, 630), (648, 692), (713, 758), (777, 803), (825, 868)]:
    line(470 + x0 / 3, 404.3, 470 + x1 / 3, 404.3, "#333", 1)
for xc, t in [(157, "Bone"), (222, "sLN"), (280, "Ing."), (315, "&amp; Brn."), (353, "Adipose"), (422, "Epi."), (485, "Om."), (560, "Mes."),
              (618, "Spl."), (670, "Om."), (735, "Epi."), (790, "Panc."), (850, "Mes.")]:
    text(470 + xc / 3, 407.7, t, angle=-90, v="top")
for x0, x1 in [(138, 368), (390, 578), (597, 878)]:
    line(470 + x0 / 3, 450.7, 470 + x1 / 3, 450.7, "#222", 1.3)
for xc, t1, t2 in [(237, "Non-cavity", "Fibroblast"), (482, "Mesothelial", "cell"), (738, "Cavity-", "Fibroblast")]:
    text(470 + xc / 3, 461, t1)
    text(470 + xc / 3, 474, t2)
text(629, 492.7, "TPM", size=10)


# ---------- F, G ----------
def scatter_panel(x0, x1, y0, y1, ylims, yticks, mx, my, fx, fy, tx, ty, ytitle, ytitle_x):
    xo = dict(range=[2, 8], showline=True, linecolor="#a8a8a8", linewidth=1, ticks="outside", ticklen=4, tickcolor="#a8a8a8",
              tickmode="array", tickvals=[2, 4, 6, 8], showticklabels=True, tickfont=dict(family=FONT, size=11.5, color=TXT))
    yo = dict(range=ylims, showline=True, linecolor="#a8a8a8", linewidth=1, ticks="outside", ticklen=4, tickcolor="#a8a8a8",
              tickmode="array", tickvals=yticks, showticklabels=True, tickfont=dict(family=FONT, size=11.5, color=TXT))
    xa, ya = new_axes(x0, x1, y0, y1, xo, yo)
    fig.add_trace(go.Scatter(x=tx, y=ty, xaxis=xa, yaxis=ya, mode="lines", hoverinfo="skip",
                             line=dict(color="#666666", width=1.3, dash="12px,6px")))
    for xs, ys, col in [(fx, fy, "#EE3124"), (mx, my, BLUE)]:
        fig.add_trace(go.Scatter(x=xs, y=ys, xaxis=xa, yaxis=ya, mode="markers", hoverinfo="skip", cliponaxis=False,
                                 marker=dict(size=9.6, color=col, line=dict(color="#777777", width=.6))))
    text((x0 + x1) / 2 + 4, 778.5, "<i>Wt1</i>", size=11.5)
    text(ytitle_x, 656, "<i>%s</i>" % ytitle, size=11.5, angle=-90)


scatter_panel(52.3, 196, 601.7, 745.7, [4, 10], [4, 6, 8, 10], f_meso_x, f_meso_y, f_fib_x, f_fib_y, f_trend_x, f_trend_y, "Raldh1", 20.7)
scatter_panel(307.7, 451, 601.7, 745.3, [2, 10], [2, 4, 6, 8, 10], g_meso_x, g_meso_y, g_fib_x, g_fib_y, g_trend_x, g_trend_y, "Raldh2", 273.5)

for ox, dots, texts, p, r, ptx, rtx in [
    (0, (73.7, 180.3), (83.3, 190.7), "<i>p</i> = 0.0029", "r<sup>2</sup> = 0.6062", 58.3, 57.3),
    (270, (314.3, 421.7), (324, 431.3), "<i>p</i> &lt; 0.0001", "r<sup>2</sup> = 0.854", 313.3, 312.7),
]:
    dot(dots[0], 584.3, BLUE)
    dot(dots[1], 584.3, "#EE3124")
    text(texts[0], 585.3, "Mesothelial cell", size=11.5, anchor="left")
    text(texts[1], 585.3, "Fibroblast", size=11.5, anchor="left")
    text(ptx, 602, p, size=12, anchor="left")
    text(rtx, 615, r, size=12, anchor="left")

f_label_pos = [("Epi. Adipose", 640, 166), ("Omentum", 412, 180), ("Spleen", 330, 221), ("Epi. Adipose", 270, 256), ("Mesentery", 663, 278),
               ("Mesentery", 467, 322), ("Omentum", 636, 340), ("Pancreas", 321, 356), ("sLN", 261, 412), ("Brn. Adipose", 453, 442),
               ("Ing. Adipose", 452, 485), ("Bone", 281, 485)]
g_label_pos = [("Omentum", 447, 160), ("Spleen", 320, 272), ("Pancreas", 181, 301), ("Mesentery", 618, 277), ("Epi. Adipose", 578, 343),
               ("Mesentery", 443, 401), ("Bone", 152, 407), ("sLN", 190, 459), ("Epi. Adipose", 507, 458), ("Ing. Adipose", 280, 490),
               ("Brn. Adipose", 279, 533)]
f_leaders = [(540, 167, 555, 167), (472, 185, 498, 218), (403, 229, 425, 235), (365, 257, 390, 258), (572, 262, 595, 272), (430, 290, 458, 310),
             (552, 298, 575, 322), (348, 318, 352, 340), (210, 412, 232, 412), (205, 328, 367, 457), (210, 495, 245, 487)]
g_leaders = [(462, 180, 459, 210), (462, 180, 485, 195), (375, 293, 387, 305), (272, 316, 285, 325), (525, 257, 550, 268), (475, 325, 495, 340),
             (380, 355, 405, 385), (139, 425, 139, 445), (185, 475, 150, 515), (195, 495, 155, 520), (380, 456, 422, 456), (192, 530, 165, 538)]
for ox, labs, leads in [(0, f_label_pos, f_leaders), (270, g_label_pos, g_leaders)]:
    for t, zx, zy in labs:
        text(ox + zx / 3, 560 + zy / 3, t, size=9.2, color="#333")
    for a, b, c, d in leads:
        line(ox + a / 3, 560 + b / 3, ox + c / 3, 560 + d / 3, "#cfcfcf", .8)

# panel letters
for x, y, t in [(2, 8, "A"), (297, 8, "B"), (566, 8, "C"), (1, 217, "D"), (478, 217, "E"), (3, 575, "F"), (267, 577, "G")]:
    text(x, y, "<b>%s</b>" % t, size=12, anchor="left", color="#111")

fig.update_layout(width=W, height=H, margin=dict(l=0, r=0, t=0, b=0, autoexpand=False), paper_bgcolor="white",
                  plot_bgcolor="rgba(0,0,0,0)", showlegend=False, annotations=annots, shapes=shapes, font=dict(family=FONT),
                  **layout_axes)
fig.write_html("out.html", post_script="document.body.style.margin='0';", config={"displayModeBar": False})
